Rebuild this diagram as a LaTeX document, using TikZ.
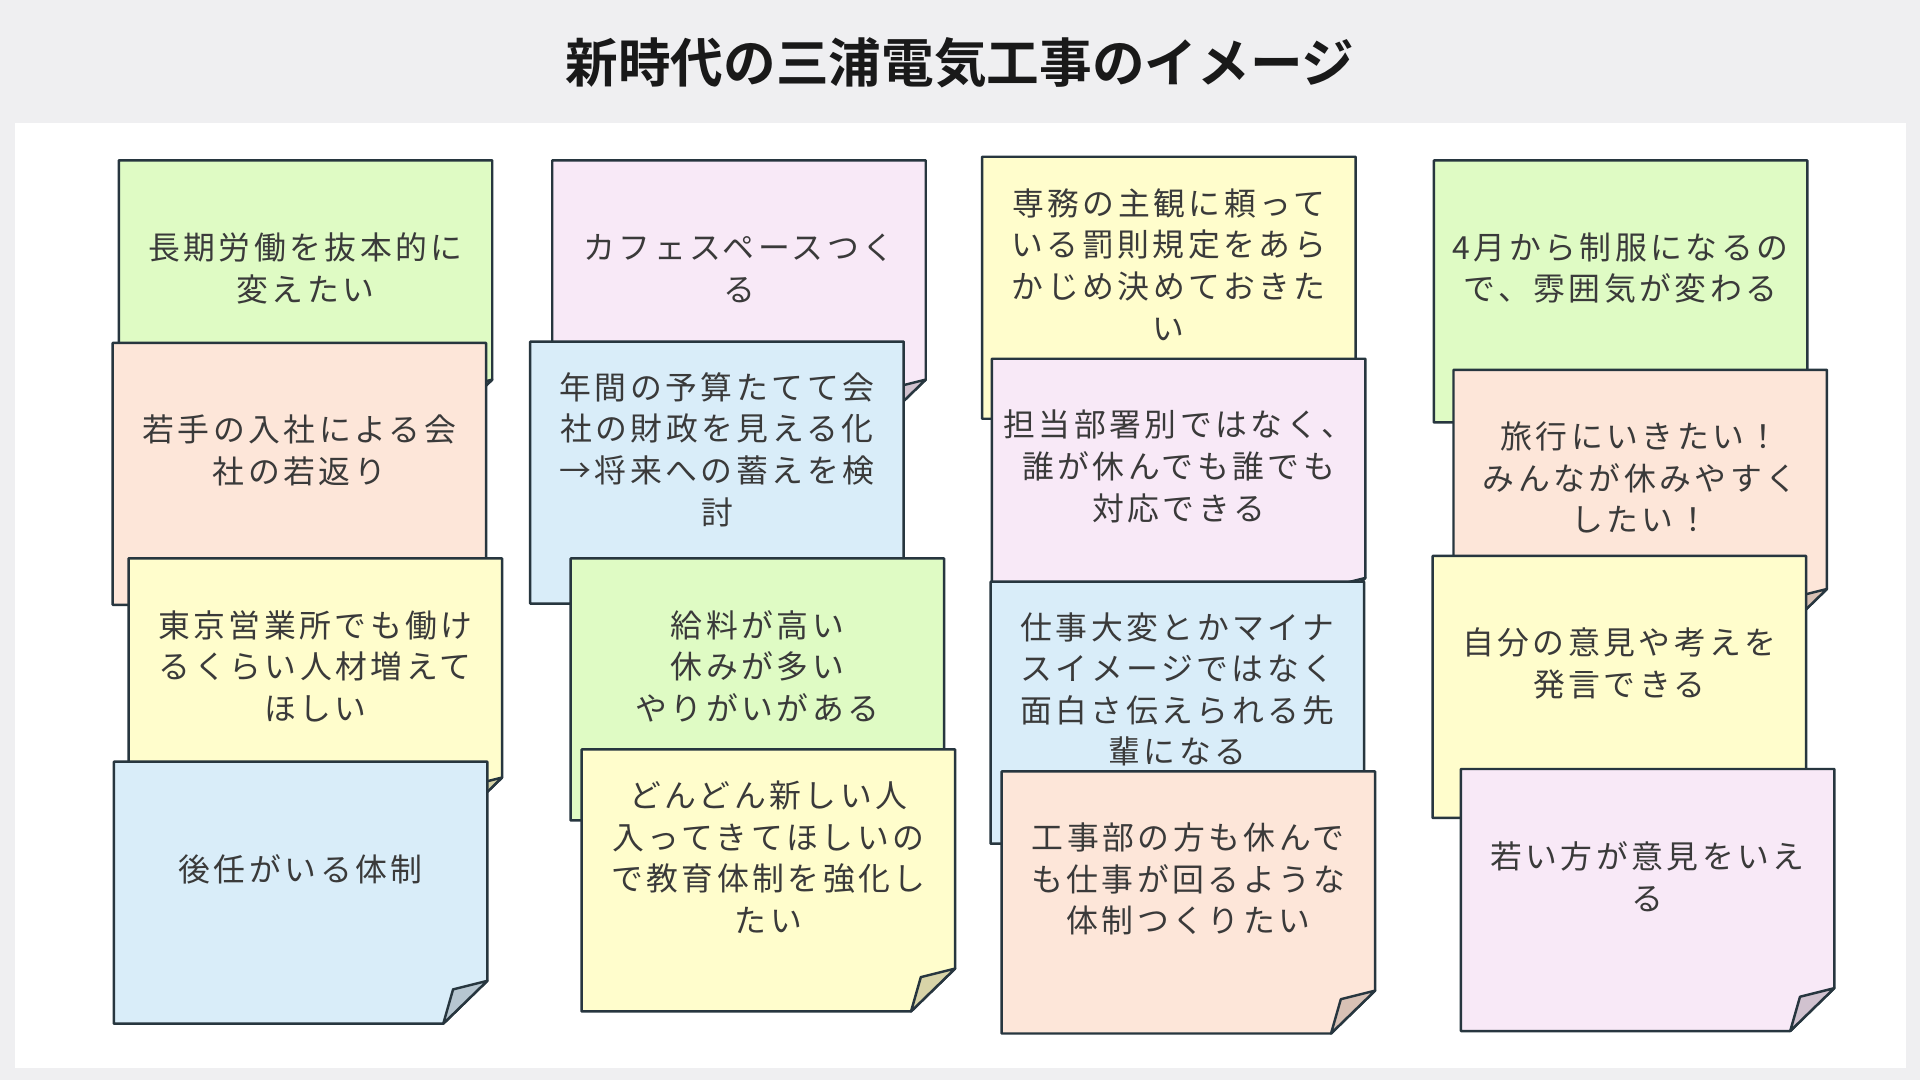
\documentclass[tikz,border=0pt]{standalone}
\usepackage{fontspec}
\newfontfamily\jp[LetterSpace=11]{Noto Sans CJK JP}
\newfontfamily\jpbold{Noto Sans CJK JP Bold}
\definecolor{bgc}{HTML}{EFEFF1}
\definecolor{edge}{HTML}{27363F}
\definecolor{txtc}{HTML}{3A3A3A}
\definecolor{gn}{HTML}{DFFBC4}
\definecolor{sa}{HTML}{FDE6D9}
\definecolor{ye}{HTML}{FFFDCC}
\definecolor{bl}{HTML}{D9EDF9}
\definecolor{pi}{HTML}{F8E9F7}
\definecolor{gnF}{HTML}{B9D2A3}
\definecolor{saF}{HTML}{D8C1B5}
\definecolor{yeF}{HTML}{D8D4A8}
\definecolor{blF}{HTML}{B6C6D1}
\definecolor{piF}{HTML}{D1C2CF}
\tikzset{
  notebody/.style={draw=edge, line width=2pt, line join=round},
  notetext/.style={text=txtc, align=center, inner sep=0pt,
    font=\jp\fontsize{26}{34}\selectfont},
  titletext/.style={text=black!90, inner sep=0pt,
    font=\jpbold\fontsize{43}{50}\selectfont}
}
\newcommand\stickynote[6]{%
  \filldraw[notebody, fill=#4] (#2,#3) -- ++(305,0) -- ++(0,179) -- ++(-36,35) -- ++(-269,0) -- cycle;
  \filldraw[notebody, fill=#5] (#2+305,#3+179) -- ++(-28,7) -- ++(-8,28) -- cycle;
  \node[notetext] (#1) at (#2+152.5,#3+88) {#6};
}
\begin{document}
\begin{tikzpicture}[x=1pt,y=-1pt]
\fill[bgc] (0,0) rectangle (1568,882);
\useasboundingbox (0,0) rectangle (1568,882);
\fill[white] (12.3,100.7) rectangle (1556.6,872.3);
\node[titletext] (title) at (784,51) {新時代の三浦電気工事のイメージ};
% column 1
\stickynote{a1}{97}{131}{gn}{gnF}{長期労働を抜本的に\\変えたい}
\stickynote{a2}{92}{280}{sa}{saF}{若手の入社による会\\社の若返り}
\stickynote{a3}{105}{456}{ye}{yeF}{東京営業所でも働け\\るくらい人材増えて\\ほしい}
\stickynote{a4}{93}{622}{bl}{blF}{後任がいる体制}
% column 2
\stickynote{b1}{451}{131}{pi}{piF}{カフェスペースつく\\る}
\stickynote{b2}{433}{279}{bl}{blF}{年間の予算たてて会\\社の財政を見える化\\→将来への蓄えを検\\討}
\stickynote{b3}{466}{456}{gn}{gnF}{給料が高い\\休みが多い\\やりがいがある}
\stickynote{b4}{475}{612}{ye}{yeF}{どんどん新しい人\\入ってきてほしいの\\で教育体制を強化し\\たい}
% column 3
\stickynote{c1}{802}{128}{ye}{yeF}{専務の主観に頼って\\いる罰則規定をあら\\かじめ決めておきた\\い}
\stickynote{c2}{810}{293}{pi}{piF}{担当部署別ではなく、\\誰が休んでも誰でも\\対応できる}
\stickynote{c3}{809}{475}{bl}{blF}{仕事大変とかマイナ\\スイメージではなく\\面白さ伝えられる先\\輩になる}
\stickynote{c4}{818}{630}{sa}{saF}{工事部の方も休んで\\も仕事が回るような\\体制つくりたい}
% column 4
\stickynote{d1}{1171}{131}{gn}{gnF}{4月から制服になるの\\で、雰囲気が変わる}
\stickynote{d2}{1187}{302}{sa}{saF}{旅行にいきたい！\\みんなが休みやすく\\したい！}
\stickynote{d3}{1170}{454}{ye}{yeF}{自分の意見や考えを\\発言できる}
\stickynote{d4}{1193}{628}{pi}{piF}{若い方が意見をいえ\\る}
\end{tikzpicture}
\end{document}
